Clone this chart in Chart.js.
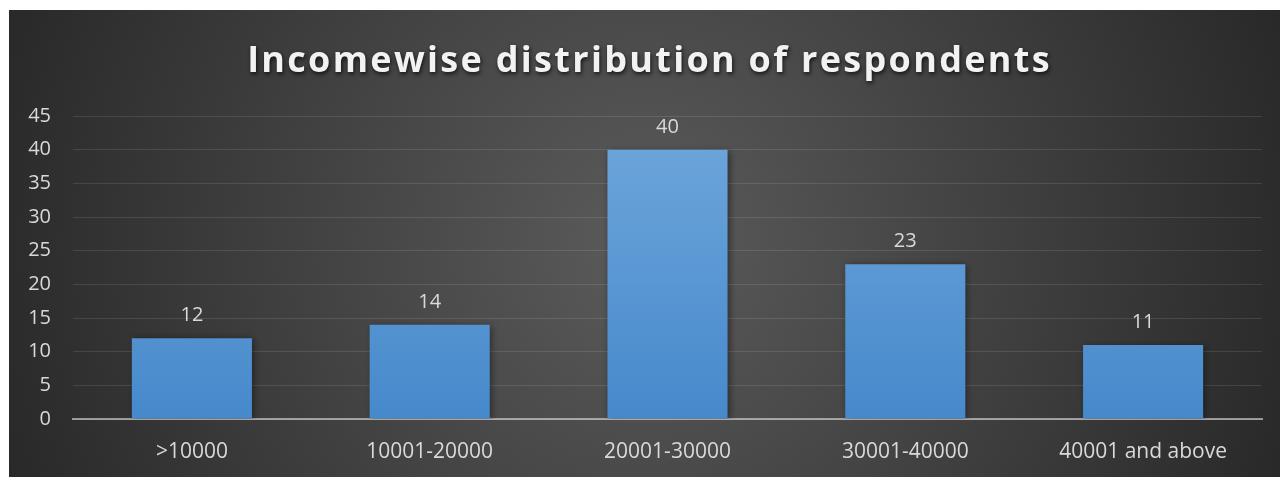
<!DOCTYPE html>
<html>
<head>
<meta charset="utf-8">
<script src="https://cdn.jsdelivr.net/npm/chart.js@4"></script>
<style>
    html, body { margin: 0; padding: 0; background: #ffffff; }
    #wrap { position: absolute; left: 9px; top: 10px; width: 1271px; height: 467px; }
</style>
</head>
<body>
<div id="wrap"><canvas id="incomeChart"></canvas></div>
<script>
// 圖表資料
const chartTitle = 'Incomewise distribution of respondents';
const categories = ['>10000', '10001-20000', '20001-30000', '30001-40000', '40001 and above'];
const respondents = [12, 14, 40, 23, 11];
const yMax = 45;
const yStep = 5;

const labelColor = '#d9d9d9';
const tickFont = { family: '"Open Sans", sans-serif', size: 20 };
const xTickFont = { family: '"Open Sans", sans-serif', size: 21 };

// 深色放射狀背景
const backgroundPlugin = {
    id: 'darkBackground',
    beforeDraw(chart) {
        const { ctx, width, height } = chart;
        const g = ctx.createRadialGradient(width / 2, height / 2, 0, width / 2, height / 2, width * 0.55);
        g.addColorStop(0, '#5b5b5b');
        g.addColorStop(1, '#272727');
        ctx.save();
        ctx.fillStyle = g;
        ctx.fillRect(0, 0, width, height);
        ctx.restore();
    }
};

// 標題：粗體、字距、陰影
const titlePlugin = {
    id: 'spacedTitle',
    afterDraw(chart) {
        const { ctx, width } = chart;
        ctx.save();
        ctx.font = 'bold 36px "Open Sans", sans-serif';
        ctx.letterSpacing = '2.3px';
        ctx.fillStyle = '#f2f2f2';
        ctx.textAlign = 'center';
        ctx.textBaseline = 'alphabetic';
        ctx.shadowColor = 'rgba(0,0,0,0.75)';
        ctx.shadowBlur = 4;
        ctx.shadowOffsetX = 1;
        ctx.shadowOffsetY = 2;
        ctx.fillText(chartTitle, width / 2 + 5, 62);
        ctx.restore();
    }
};

// 長條陰影與數值標籤
const barDecorPlugin = {
    id: 'barDecor',
    beforeDatasetDraw(chart) {
        const ctx = chart.ctx;
        ctx.save();
        ctx.shadowColor = 'rgba(0,0,0,0.45)';
        ctx.shadowBlur = 7;
        ctx.shadowOffsetX = 2;
        ctx.shadowOffsetY = 1;
    },
    afterDatasetDraw(chart) {
        chart.ctx.restore();
    },
    afterDatasetsDraw(chart) {
        const ctx = chart.ctx;
        const meta = chart.getDatasetMeta(0);
        ctx.save();
        ctx.font = '20px "Open Sans", sans-serif';
        ctx.fillStyle = labelColor;
        ctx.textAlign = 'center';
        ctx.textBaseline = 'alphabetic';
        meta.data.forEach((bar, i) => {
            ctx.fillText(String(respondents[i]), bar.x, bar.y - 17);
        });
        ctx.restore();
    }
};

function barGradient(context) {
    const chart = context.chart;
    const area = chart.chartArea;
    if (!area) return '#5b9bd5';
    const el = context.element;
    const top = el && isFinite(el.y) ? el.y : area.top;
    const g = chart.ctx.createLinearGradient(0, top, 0, area.bottom);
    g.addColorStop(0, '#70a7dc');
    g.addColorStop(1, '#4689cb');
    return g;
}

new Chart(document.getElementById('incomeChart'), {
    type: 'bar',
    data: {
        labels: categories,
        datasets: [{
            data: respondents,
            backgroundColor: barGradient,
            borderWidth: 0,
            categoryPercentage: 1,
            barPercentage: 0.505
        }]
    },
    options: {
        responsive: true,
        maintainAspectRatio: false,
        animation: false,
        layout: { padding: { left: 0, right: 18, top: 106, bottom: 0 } },
        plugins: {
            legend: { display: false },
            title: { display: false },
            tooltip: { enabled: false }
        },
        scales: {
            x: {
                z: 1,
                grid: { display: false },
                border: { display: true, color: 'rgba(210,210,210,0.65)', width: 2 },
                ticks: { color: labelColor, font: xTickFont, padding: 12, maxRotation: 0 },
                afterFit(scale) { scale.height = 58; }
            },
            y: {
                min: 0,
                max: yMax,
                ticks: { stepSize: yStep, color: labelColor, font: tickFont, padding: 22 },
                grid: { color: 'rgba(255,255,255,0.11)', lineWidth: 1, drawTicks: false },
                border: { display: false },
                afterFit(scale) { scale.width = 64; }
            }
        }
    },
    plugins: [backgroundPlugin, barDecorPlugin, titlePlugin]
});
</script>
</body>
</html>
